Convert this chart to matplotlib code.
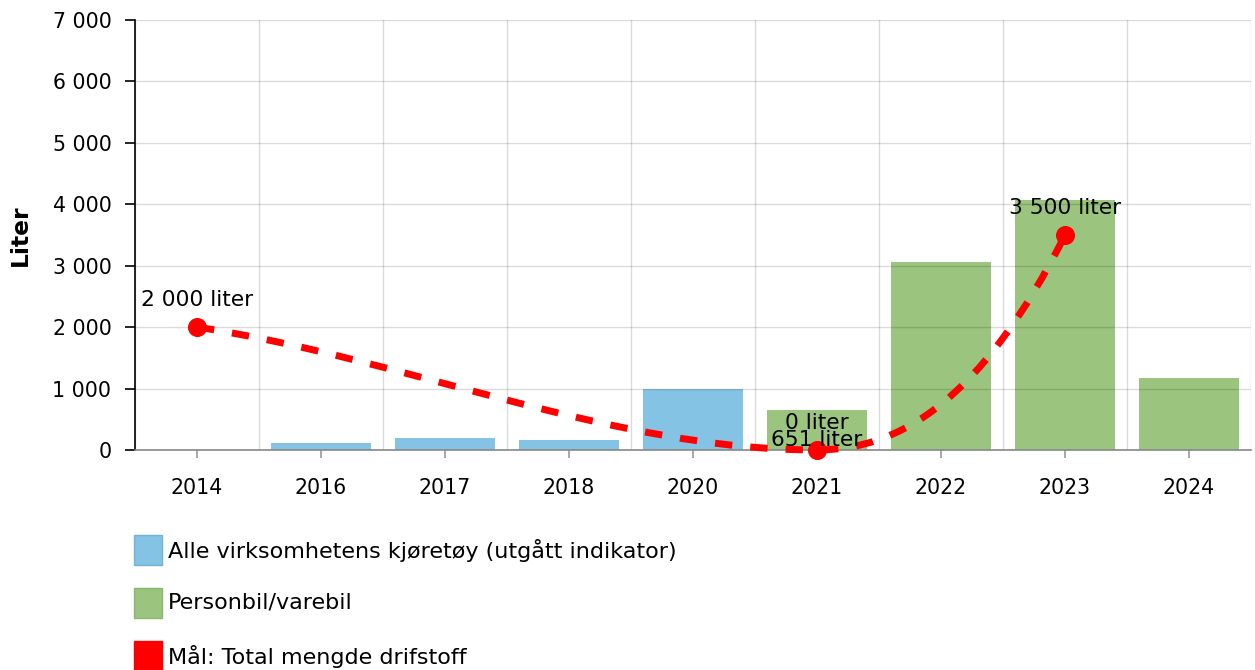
import numpy as np
import matplotlib
matplotlib.use("Agg")
import matplotlib.pyplot as plt
from matplotlib.path import Path
from matplotlib.patches import PathPatch, Rectangle
from matplotlib.ticker import FuncFormatter, MultipleLocator

# data
years = ["2014", "2016", "2017", "2018", "2020", "2021", "2022", "2023", "2024"]
alle_kjoretoy = [np.nan, 115, 195, 165, 990, np.nan, np.nan, np.nan, np.nan]
personbil = [np.nan, np.nan, np.nan, np.nan, np.nan, 651, 3060, 4070, 1170]
maal_years = ["2014", "2021", "2023"]
maal = [2000, 0, 3500]

blue = "#84c3e3"
green = "#9bc47e"
red = "#ff0000"
fs = 14.8      # tick labels
fs_txt = 15.7  # data labels
fs_leg = 16.0  # legend


def fmt(v):
    return f"{int(round(v)):,}".replace(",", " ")


fig = plt.figure(figsize=(12.55, 6.7), dpi=100)
ax = fig.add_axes([135 / 1255, 1 - 450 / 670, 1116 / 1255, 430 / 670])

x = np.arange(len(years))
ax.bar(x, alle_kjoretoy, width=0.8, color=blue, zorder=1)
ax.bar(x, personbil, width=0.8, color=green, zorder=1)

# smooth dashed target line (cubic hermite -> bezier segments)
mx = np.array([years.index(y) for y in maal_years], dtype=float)
my = np.array(maal, dtype=float)
sec = np.diff(my) / np.diff(mx)
tang = np.zeros(len(mx))
tang[0] = 0.75 * sec[0]
tang[-1] = 2.3 * sec[-1]
for i in range(1, len(mx) - 1):
    if sec[i - 1] * sec[i] > 0:
        tang[i] = (sec[i - 1] + sec[i]) / 2
verts = [(mx[0], my[0])]
codes = [Path.MOVETO]
for i in range(len(mx) - 1):
    h = mx[i + 1] - mx[i]
    verts += [(mx[i] + h / 3, my[i] + tang[i] * h / 3),
              (mx[i + 1] - h / 3, my[i + 1] - tang[i + 1] * h / 3),
              (mx[i + 1], my[i + 1])]
    codes += [Path.CURVE4] * 3
ax.add_patch(PathPatch(Path(verts, codes), fill=False, edgecolor=red, lw=5,
                       linestyle=(0, (2.5, 2.6)), capstyle="butt", zorder=4,
                       clip_on=False))
ax.plot(mx, my, "o", color=red, ms=12.7, zorder=5, clip_on=False)

for xi, v in zip(mx, maal):
    ax.annotate(f"{fmt(v)} liter", (xi, v), xytext=(0, 21), textcoords="offset pixels",
                ha="center", va="baseline", fontsize=fs_txt, zorder=6)
i21 = years.index("2021")
ax.annotate(f"{fmt(personbil[i21])} liter", (i21, 0), xytext=(0, 4),
            textcoords="offset pixels", ha="center", va="baseline", fontsize=fs_txt,
            zorder=6)

ax.set_xlim(-0.5, len(years) - 0.5)
ax.set_ylim(0, 7000)
ax.set_xticks(x)
ax.set_xticklabels(years)
ax.set_xticks(np.arange(-0.5, len(years), 1.0), minor=True)
ax.yaxis.set_major_locator(MultipleLocator(1000))
ax.yaxis.set_major_formatter(FuncFormatter(lambda v, p: fmt(v)))

ax.set_axisbelow(False)
ax.grid(axis="y", which="major", color="black", alpha=0.14, lw=1, zorder=2)
ax.grid(axis="x", which="minor", color="black", alpha=0.14, lw=1, zorder=2)
ax.grid(axis="x", which="major", visible=False)

for s in ["top", "right"]:
    ax.spines[s].set_visible(False)
ax.spines["left"].set_color("black")
ax.spines["left"].set_linewidth(1.2)
ax.spines["bottom"].set_color("#888888")
ax.spines["bottom"].set_linewidth(1.2)
ax.spines["bottom"].set_zorder(3)

ax.tick_params(axis="y", length=7, width=1.2, color="black", pad=10, labelsize=fs)
ax.tick_params(axis="x", which="major", length=6, width=1.2, color="#999999", pad=14,
               labelsize=fs)
ax.tick_params(axis="x", which="minor", length=0)

ax.set_ylabel("Liter", fontsize=16.8, fontweight="bold")
ax.yaxis.set_label_coords(-0.092, 0.5)

# legend below the chart
legend_items = [("Alle virksomhetens kjøretøy (utgått indikator)", blue, "#6fb3d9"),
                ("Personbil/varebil", green, "#88b86a"),
                ("Mål: Total mengde drifstoff", red, red)]
for k, (label, fc, ec) in enumerate(legend_items):
    yc = 550 + k * 53
    fig.add_artist(Rectangle((134 / 1255, 1 - (yc + 15) / 670), 28 / 1255, 30 / 670,
                             facecolor=fc, edgecolor=ec, lw=1, transform=fig.transFigure))
    fig.text(168 / 1255, 1 - yc / 670, label, fontsize=fs_leg, va="center", ha="left")

fig.savefig("out.png", dpi=100)
